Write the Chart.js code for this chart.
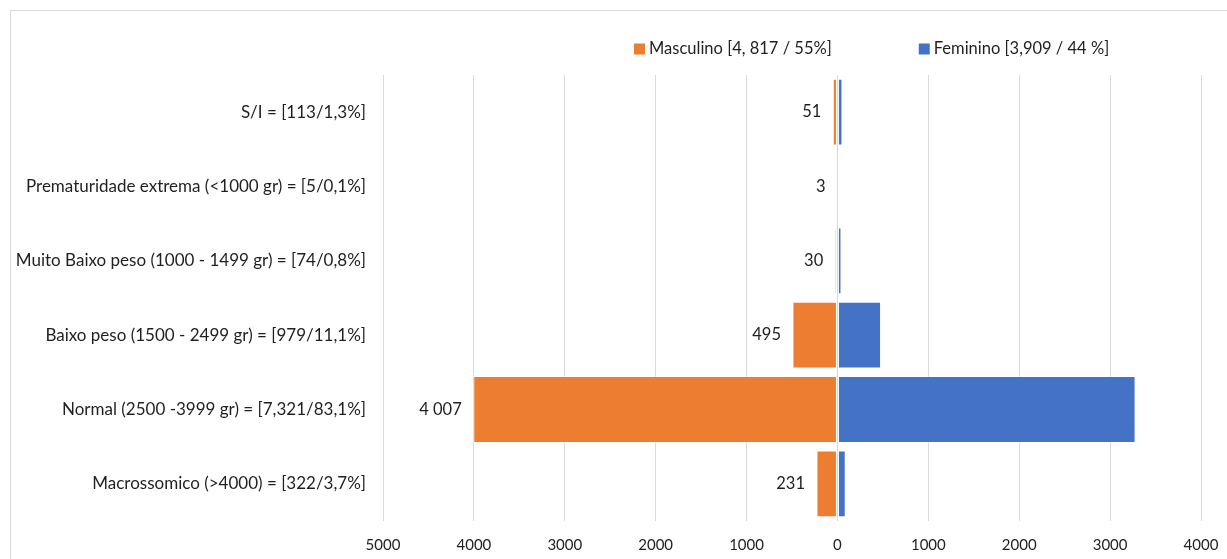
<!DOCTYPE html>
<html>
<head>
<meta charset="utf-8">
<title>Peso ao nascer por sexo</title>
<script src="https://cdn.jsdelivr.net/npm/chart.js@4.4.0/dist/chart.umd.min.js"></script>
<style>
  html, body { margin: 0; padding: 0; background: #fff; overflow: hidden; }
  #wrap { position: relative; width: 1227px; height: 559px; }
  #frame {
    position: absolute; left: 10px; top: 10px; width: 1300px; height: 700px;
    border-left: 1px solid #d9d9d9; border-top: 1px solid #d9d9d9;
  }
  #birthChart { position: absolute; left: 0; top: 0; }
</style>
</head>
<body>
<div id="wrap">
  <div id="frame"></div>
  <canvas id="birthChart" width="1227" height="559"></canvas>
</div>
<script>
// categorias de peso ao nascer (de cima para baixo)
const categorias = [
  'S/I = [113/1,3%]',
  'Prematuridade extrema (<1000 gr) = [5/0,1%]',
  'Muito Baixo peso (1000 - 1499 gr) = [74/0,8%]',
  'Baixo peso (1500 - 2499 gr) = [979/11,1%]',
  'Normal (2500 -3999 gr) = [7,321/83,1%]',
  'Macrossomico (>4000) = [322/3,7%]'
];
const masculino = [51, 3, 30, 495, 4007, 231];
const feminino = [55, 2, 44, 480, 3280, 91];
const legendaMasc = 'Masculino [4, 817 / 55%]';
const legendaFem = 'Feminino [3,909 / 44 %]';
const xTicks = [-5000, -4000, -3000, -2000, -1000, 0, 1000, 2000, 3000, 4000];

const FONT = 'Lato, "Open Sans", sans-serif';
const TEXT = '#1f1f1f';
const ORANGE = '#ED7D31';
const BLUE = '#4472C4';

// 4007 -> "4 007"
function fmt(v) {
  return String(Math.abs(v)).replace(/\B(?=(\d{3})+(?!\d))/g, ' ');
}

// rótulos de valor do lado esquerdo das barras masculinas
const maleLabels = {
  id: 'maleLabels',
  afterDatasetsDraw(chart) {
    const ctx = chart.ctx;
    const meta = chart.getDatasetMeta(0);
    ctx.save();
    ctx.font = '16.5px ' + FONT;
    ctx.fillStyle = TEXT;
    ctx.textAlign = 'right';
    ctx.textBaseline = 'middle';
    meta.data.forEach((bar, i) => {
      ctx.fillText(fmt(masculino[i]), bar.x - 11.5, bar.y);
    });
    ctx.restore();
  }
};

// legenda no topo, deslocada para a direita
const topLegend = {
  id: 'topLegend',
  afterDraw(chart) {
    const ctx = chart.ctx;
    ctx.save();
    ctx.font = '16.5px ' + FONT;
    ctx.textAlign = 'left';
    ctx.textBaseline = 'middle';
    let x = 634;
    const y = 49;
    chart.data.datasets.forEach(ds => {
      ctx.fillStyle = ds.backgroundColor;
      ctx.fillRect(x, y - 5.5, 11, 11);
      ctx.fillStyle = TEXT;
      ctx.fillText(ds.label, x + 15, y);
      x += 15 + ctx.measureText(ds.label).width + 87;
    });
    ctx.restore();
  }
};

new Chart(document.getElementById('birthChart'), {
  type: 'bar',
  data: {
    labels: categorias,
    datasets: [
      {
        label: legendaMasc,
        data: masculino.map(v => -v),
        backgroundColor: ORANGE,
        borderColor: 'rgba(255,255,255,0.4)',
        borderWidth: 1,
        borderSkipped: false,
        barPercentage: 0.9,
        categoryPercentage: 1
      },
      {
        label: legendaFem,
        data: feminino,
        backgroundColor: BLUE,
        borderColor: 'rgba(255,255,255,0.4)',
        borderWidth: 1,
        borderSkipped: false,
        barPercentage: 0.9,
        categoryPercentage: 1
      }
    ]
  },
  options: {
    indexAxis: 'y',
    responsive: false,
    animation: false,
    layout: { padding: { top: 75, right: 26, left: 0, bottom: 0 } },
    plugins: {
      legend: { display: false },
      tooltip: { enabled: false }
    },
    scales: {
      x: {
        stacked: true,
        min: -5000,
        max: 4000,
        afterFit(scale) {
          scale.height = 38;
          scale.paddingLeft = 0;
          scale.paddingRight = 0;
        },
        afterBuildTicks(scale) { scale.ticks = xTicks.map(v => ({ value: v })); },
        grid: { color: '#d9d9d9', lineWidth: 1, drawTicks: false },
        border: { display: false },
        ticks: {
          padding: 15,
          color: TEXT,
          font: { family: FONT, size: 15 },
          callback: v => String(Math.abs(v))
        }
      },
      y: {
        stacked: true,
        afterFit(scale) { scale.width = 383; },
        grid: { display: false, drawTicks: false },
        border: { display: false },
        ticks: {
          padding: 17,
          color: TEXT,
          font: { family: FONT, size: 17 }
        }
      }
    }
  },
  plugins: [maleLabels, topLegend]
});
</script>
</body>
</html>
